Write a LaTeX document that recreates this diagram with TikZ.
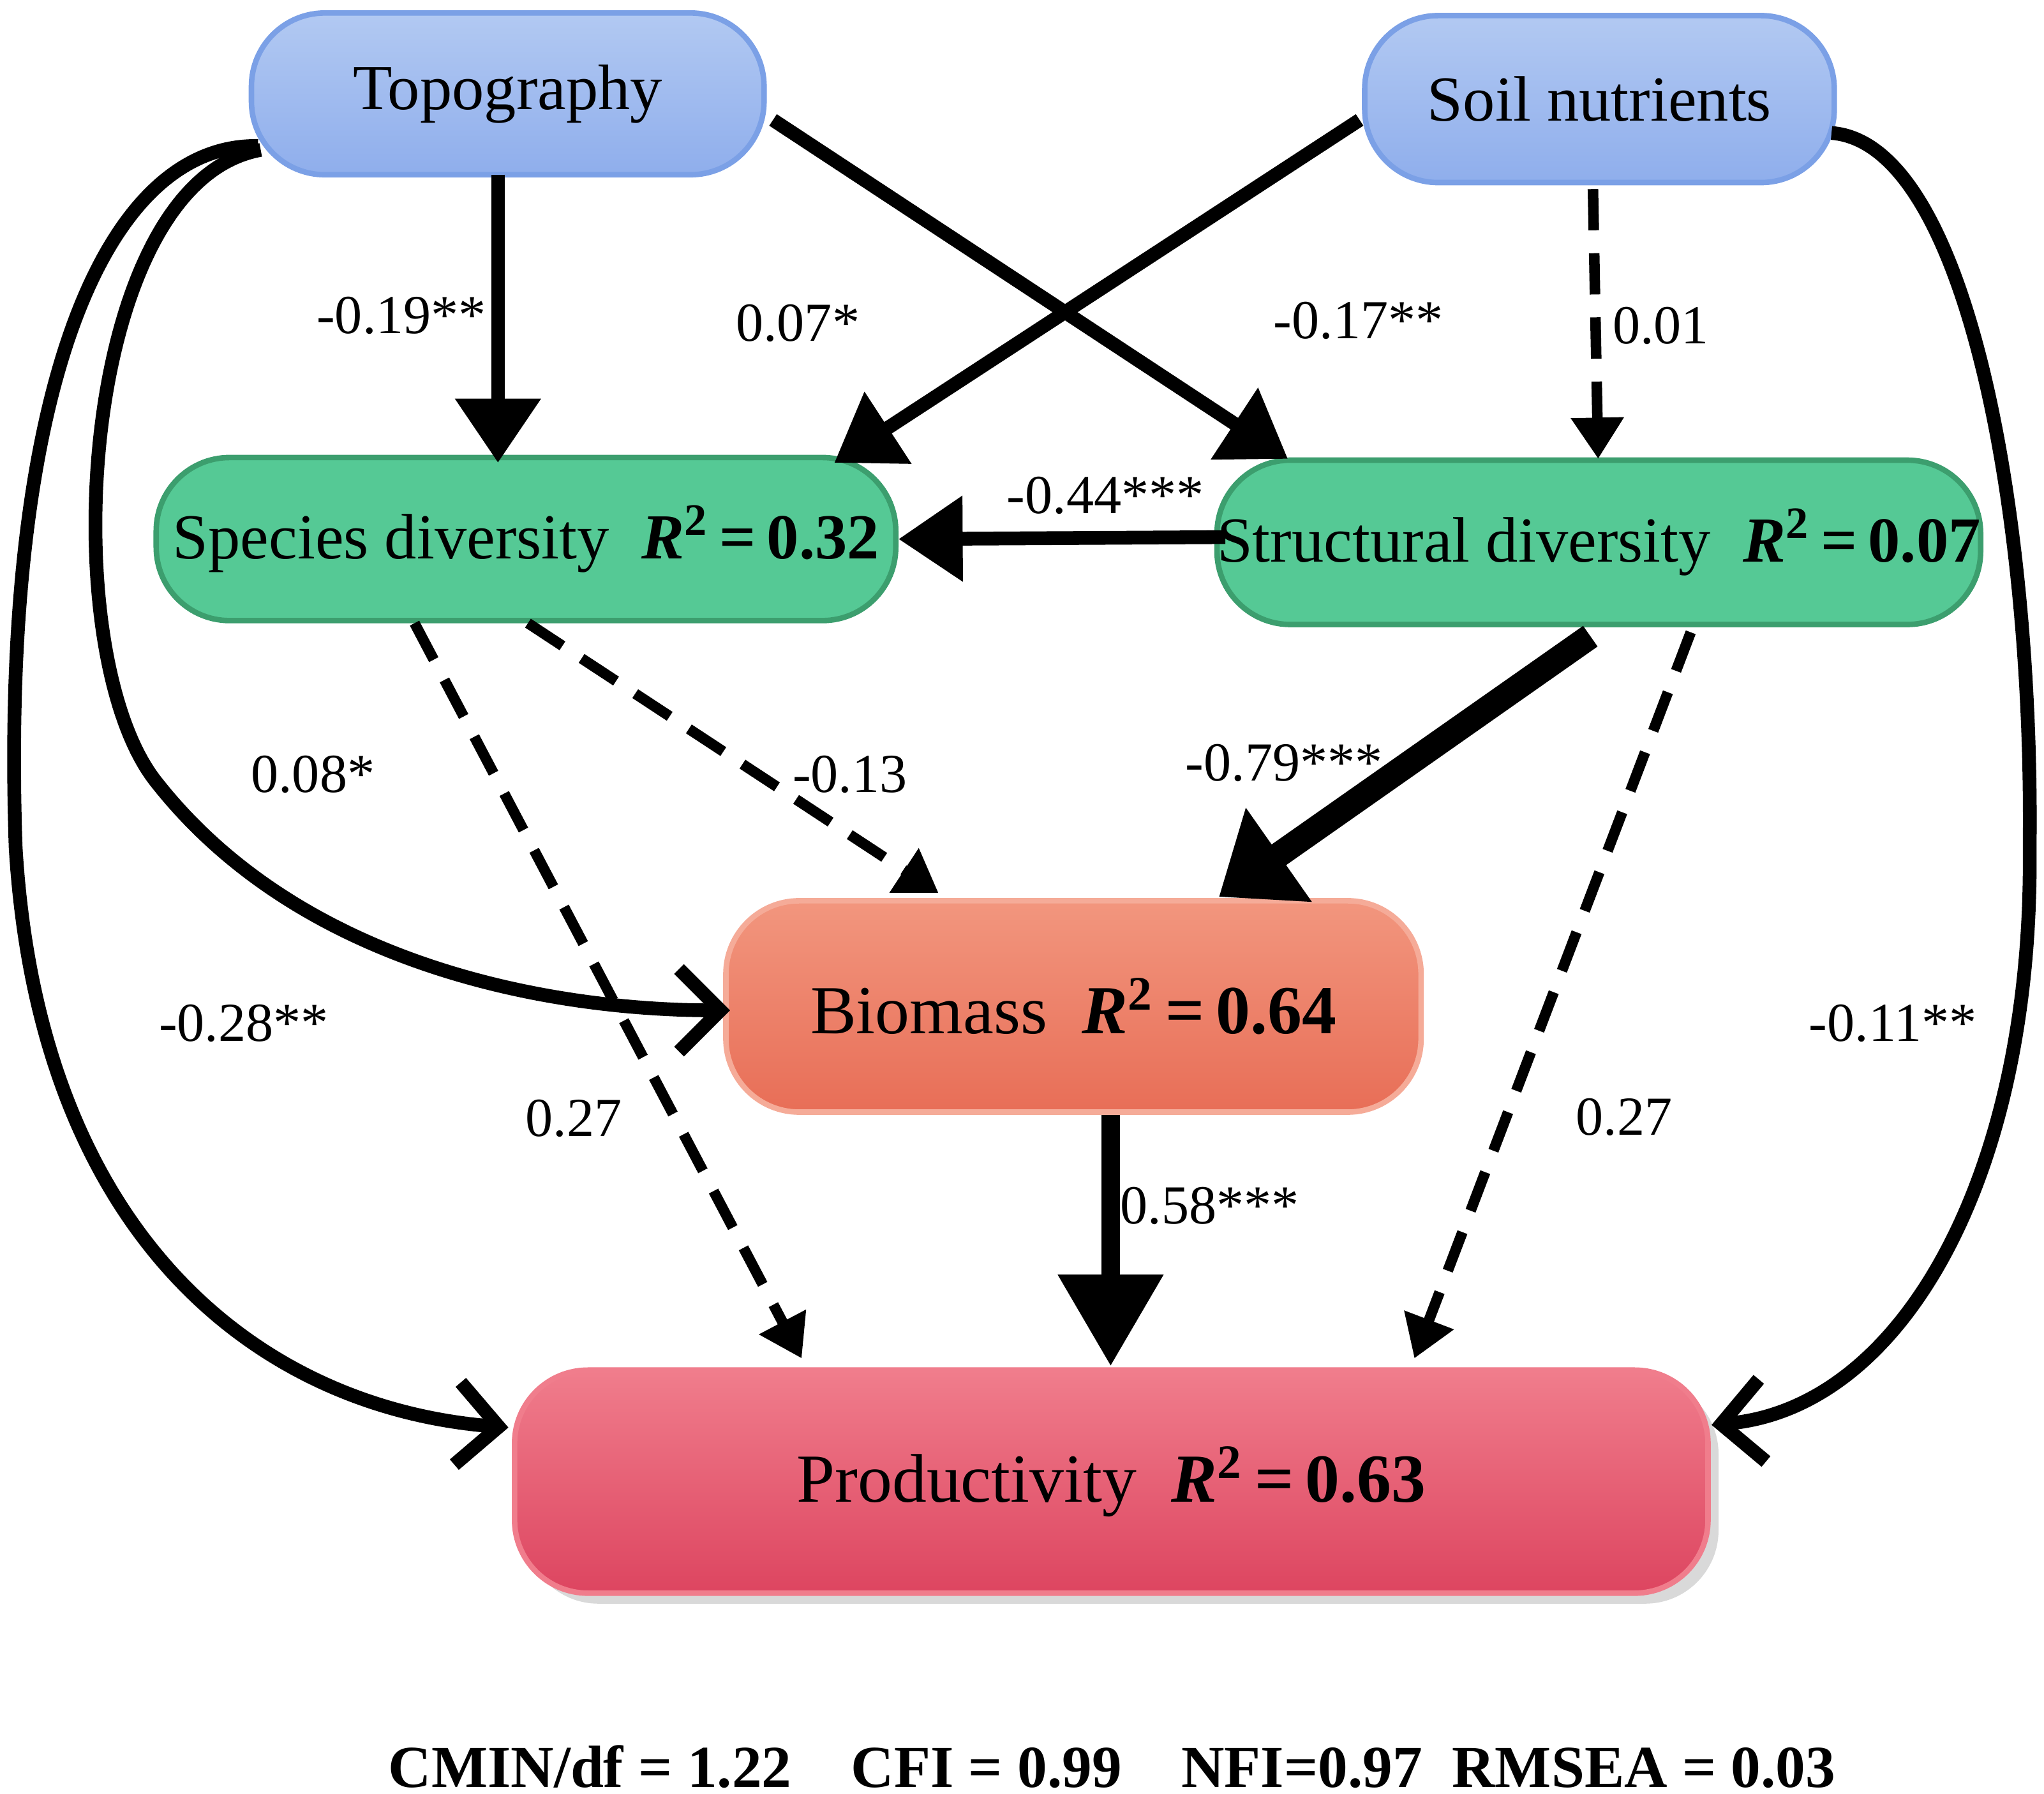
\documentclass[tikz,border=0pt]{standalone}
\usepackage{fontspec}
\setmainfont{Liberation Serif}
\usetikzlibrary{arrows.meta,shadows}
\definecolor{bluetop}{HTML}{B2C9F2}\definecolor{bluebot}{HTML}{8FAEEC}\definecolor{blueline}{HTML}{7BA0E6}
\definecolor{green}{HTML}{55C995}\definecolor{greenline}{HTML}{3C9E6E}
\definecolor{biotop}{HTML}{F2967E}\definecolor{biobot}{HTML}{E86E57}
\definecolor{protop}{HTML}{F07D8C}\definecolor{probot}{HTML}{DD4560}
\tikzset{
 box/.style={rounded corners=16, draw, line width=1.2pt, font=\fontsize{14}{16}\selectfont, inner sep=0pt},
 blue/.style={box, top color=bluetop, bottom color=bluebot, draw=blueline},
 grn/.style={box, fill=green, draw=greenline},
 lbl/.style={font=\fontsize{12}{14}\selectfont},
 sol/.style={line width=3pt, -{Triangle[length=14pt,width=18pt]}},
 vthick/.style={line width=5.5pt, -{Triangle[length=16pt,width=24pt]}},
 dsh/.style={line width=2.3pt, dash pattern=on 9pt off 5pt, -{Triangle[length=9pt,width=11pt]}},
 crv/.style={line width=3pt, -{Straight Barb[length=9pt,width=18pt,line width=3pt]}},
}
\begin{document}
\begin{tikzpicture}[x=0.01cm,y=-0.01cm]
\useasboundingbox (0,0) rectangle (1568,1376);
\node[blue, minimum width=3.93cm, minimum height=1.24cm] (topo) at (389.5,72) {Topography};
\node[blue, minimum width=3.6cm, minimum height=1.28cm] (soil) at (1227,76) {Soil nutrients};
\node[grn, minimum width=5.67cm, minimum height=1.25cm] (spec) at (403.5,413.5) {Species diversity\enspace \textbf{\textit{R}\textsuperscript{2}\,=\,0.32}};
\node[grn, minimum width=5.67cm, minimum height=1.26cm] (struc) at (1226.5,416) {Structural diversity\enspace \textbf{\textit{R}\textsuperscript{2}\,=\,0.07}};
\node[box, top color=biotop, bottom color=biobot, draw=biotop!80!white, minimum width=5.33cm, minimum height=1.62cm, font=\fontsize{15}{17}\selectfont] (bio) at (823.5,772) {Biomass\enspace \textbf{\textit{R}\textsuperscript{2}\,=\,0.64}};
\node[box, top color=protop, bottom color=probot, draw=protop, drop shadow={opacity=0.3}, minimum width=9.15cm, minimum height=1.71cm, font=\fontsize{15}{17}\selectfont] (prod) at (852.5,1136.5) {Productivity\enspace \textbf{\textit{R}\textsuperscript{2}\,=\,0.63}};
\node[font=\bfseries\fontsize{13}{15}\selectfont] (fit) at (853,1355) {CMIN/df = 1.22\quad CFI = 0.99\quad NFI=0.97\enspace RMSEA = 0.03};

\draw[sol] (382,134) -- (382,355) coordinate (a1);
\draw[sol] (593,92) -- (988,352);
\draw[sol] (1043,92) -- (640,355);
\draw[dsh] (1222,145) -- (1226,352);
\draw[sol] (940,412) -- (spec.east);
\draw[dsh] (405,478) -- (720,685);
\draw[dsh] (318,478) -- (615,1042);
\draw[vthick] (1220,488) -- (935,688);
\draw[dsh] (1297,485) -- (1085,1042);
\draw[sol, line width=4pt, -{Triangle[length=20pt,width=22pt]}] (bio.south -| 852,0) -- (852,1048);
\draw[crv] (200,115) .. controls (60,140) and (40,500) .. (120,600) .. controls (230,740) and (420,775) .. (560,775);
\draw[crv] (198,112) .. controls (80,110) and (0,300) .. (12,650) .. controls (30,950) and (200,1080) .. (390,1095);
\draw[crv] (1405,102) .. controls (1510,110) and (1560,400) .. (1557,650) .. controls (1560,900) and (1460,1080) .. (1313,1093);

\node[lbl] at (308,242) {-0.19**};
\node[lbl] at (612,248) {0.07*};
\node[lbl] at (1042,246) {-0.17**};
\node[lbl] at (1274,250) {0.01};
\node[lbl] at (848,380) {-0.44***};
\node[lbl] at (652,594) {-0.13};
\node[lbl] at (440,858) {0.27};
\node[lbl] at (985,585) {-0.79***};
\node[lbl] at (1246,857) {0.27};
\node[lbl] at (928,925) {0.58***};
\node[lbl] at (240,594) {0.08*};
\node[lbl] at (187,785) {-0.28**};
\node[lbl] at (1452,785) {-0.11**};
\end{tikzpicture}
\end{document}
